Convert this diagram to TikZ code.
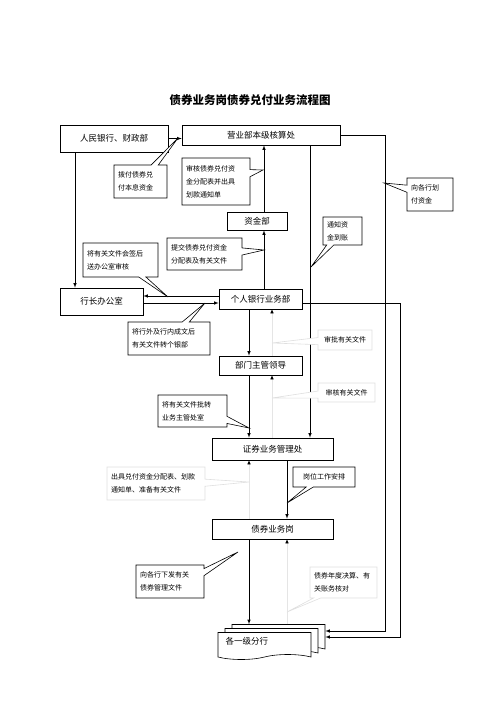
\documentclass[tikz,border=0pt]{standalone}
\usepackage{fontspec}
\setmainfont{Noto Sans CJK SC}
\usepackage{tikz}
\usetikzlibrary{arrows}
\usetikzlibrary{arrows.meta}
\usetikzlibrary{calc}
\usetikzlibrary{shapes,shapes.callouts,shapes.symbols}

\begin{document}
\begin{tikzpicture}[
  x=1pt,y=-1pt,
  box/.style n args={2}{draw,semithick,fill=white,inner sep=0pt,minimum width=#1,minimum height=#2,font=\fontsize{8.5}{10}\selectfont},
  note/.style={rectangle callout,draw,semithick,fill=white,align=left,inner xsep=4pt,inner ysep=2pt,font=\fontsize{7}{13}\selectfont},
  faintnote/.style={note,draw=gray!25},
  sheet/.style={tape,tape bend top=none,draw,semithick,fill=white,minimum width=93pt,minimum height=27pt,inner sep=0pt},
  link/.style={->,>=latex,semithick},
  faint/.style={-{Latex[black,length=4pt,width=3.5pt]},gray!20,semithick}]

  \useasboundingbox (0,0) rectangle (500,708);

  \node[font=\fontsize{11.5}{14}\selectfont\bfseries] (title) at (250,100) {债券业务岗债券兑付业务流程图};

  % Position the boxes at coordinates
  \node[box={108pt}{27pt}] (pboc) at (114,138.5) {人民银行、财政部};
  \node[box={158pt}{20pt}] (yyb) at (261,135) {营业部本级核算处};
  \node[box={60pt}{18pt}] (zjb) at (257,221) {资金部};
  \node[box={83pt}{27pt}] (hzb) at (101.5,301.5) {行长办公室};
  \node[box={83pt}{20pt}] (grb) at (260.5,299) {个人银行业务部};
  \node[box={83pt}{19pt}] (bmld) at (260.5,365.5) {部门主管领导};
  \node[box={121pt}{22pt}] (zqc) at (272.5,449) {证券业务管理处};
  \node[box={121pt}{20pt}] (zqg) at (272.5,529) {债券业务岗};

  % stacked documents
  \node[sheet] (fh3) at (278.5,635.5) {};
  \node[sheet] (fh2) at (271.5,639.5) {};
  \node[sheet,text width=78pt,align=left,font=\fontsize{8.5}{10}\selectfont] (fh1) at (264.5,643.5) {\raisebox{5pt}{各一级分行}};

  % columns of the vertical lines
  \coordinate (colL) at (75,0);
  \coordinate (colA) at (249,0);
  \coordinate (colB) at (264,0);
  \coordinate (colC) at (272,0);
  \coordinate (colD) at (287,0);
  \coordinate (colE) at (310,0);
  \coordinate (r1) at (385,631);
  \coordinate (r2) at (400,637);
  \coordinate (g1) at ($(grb.west)+(0,-3)$);
  \coordinate (g2) at ($(grb.east)+(0,4)$);
  \coordinate (h1) at ($(hzb.east)+(0,1.5)$);

  % Draw the arrows between the boxes
  \draw[link] (pboc.east) -- (pboc.east -| yyb.west);
  \draw[link] (colL |- pboc.south) -- (colL |- hzb.north);
  \draw[link] (colB |- zjb.north) -- (colB |- yyb.south);
  \draw[link] (colB |- grb.north) -- (colB |- zjb.south);
  \draw[link] (colE |- yyb.south) -- (colE |- zqc.north);
  \draw[link] (yyb.east) -| (r1) -- (r1 -| fh3.east);
  \draw[link] (g1) -- (g1 -| hzb.east);
  \draw[link] (h1) -- (h1 -| grb.west);
  \draw[link] (g2) -| (r2) -- (r2 -| fh3.east);
  \draw[link] (colA |- grb.south) -- (colA |- bmld.north);
  \draw[faint] (colC |- bmld.north) -- (colC |- grb.south);
  \draw[link] (colA |- bmld.south) -- (colA |- zqc.north);
  \draw[faint] (colC |- zqc.north) -- (colC |- bmld.south);
  \draw[link] (colD |- zqc.south) -- (colD |- zqg.north);
  \draw[faint] (colA |- zqg.north) -- (colA |- zqc.south);
  \draw[link] (colA |- zqg.south) -- (colA |- fh3.north);
  \draw[faint] (colD |- fh3.north) -- (colD |- zqg.south);

  % callouts pointing at the arrows
  \node[note,text width=45pt,minimum height=33pt,callout absolute pointer={(178,138)}] (n1) at (140.5,181.5) {拨付债券兑\\付本息资金};
  \node[note,text width=60pt,minimum height=47pt,callout absolute pointer={(263,170)}] (n2) at (216,181.5) {审核债券兑付资\\金分配表并出具\\划款通知单};
  \node[note,text width=38pt,minimum height=33pt,callout absolute pointer={(384,183)}] (n3) at (430,194.5) {向各行划\\付资金};
  \node[note,text width=31pt,minimum height=28pt,callout absolute pointer={(311,267)}] (n4) at (342.5,231) {通知资\\金到账};
  \node[note,text width=67pt,minimum height=32pt,callout absolute pointer={(264,250)}] (n5) at (204.5,254) {提交债券兑付资金\\分配表及有关文件};
  \node[note,text width=67pt,minimum height=34pt,callout absolute pointer={(168,297)}] (n6) at (120.5,260) {将有关文件会签后\\送办公室审核};
  \node[note,text width=74pt,minimum height=33pt,callout absolute pointer={(205,303)}] (n7) at (169,338.5) {将行外及行内成文后\\有关文件转个银部};
  \node[faintnote,minimum width=54pt,minimum height=20pt,callout absolute pointer={(272,343)}] (n8) at (345,340) {审批有关文件};
  \node[faintnote,minimum width=57pt,minimum height=19pt,callout absolute pointer={(272,398)}] (n9) at (346.5,392.5) {审核有关文件};
  \node[note,text width=61pt,minimum height=32pt,callout absolute pointer={(249,428)}] (n10) at (192.5,411) {将有关文件批转\\业务主管处室};
  \node[faintnote,text width=90pt,minimum height=33pt,callout absolute pointer={(249,482)}] (n11) at (156,483.5) {出具兑付资金分配表、划款\\通知单、准备有关文件};
  \node[note,minimum width=62pt,minimum height=20pt,callout absolute pointer={(287,503)}] (n12) at (324,477) {岗位工作安排};
  \node[note,text width=60pt,minimum height=33pt,callout absolute pointer={(238,552)}] (n13) at (170,581.5) {向各行下发有关\\债券管理文件};
  \node[faintnote,text width=59pt,minimum height=31pt,callout absolute pointer={(287,612)}] (n14) at (343.5,582.5) {债券年度决算、有\\关账务核对};
\end{tikzpicture}
\end{document}
